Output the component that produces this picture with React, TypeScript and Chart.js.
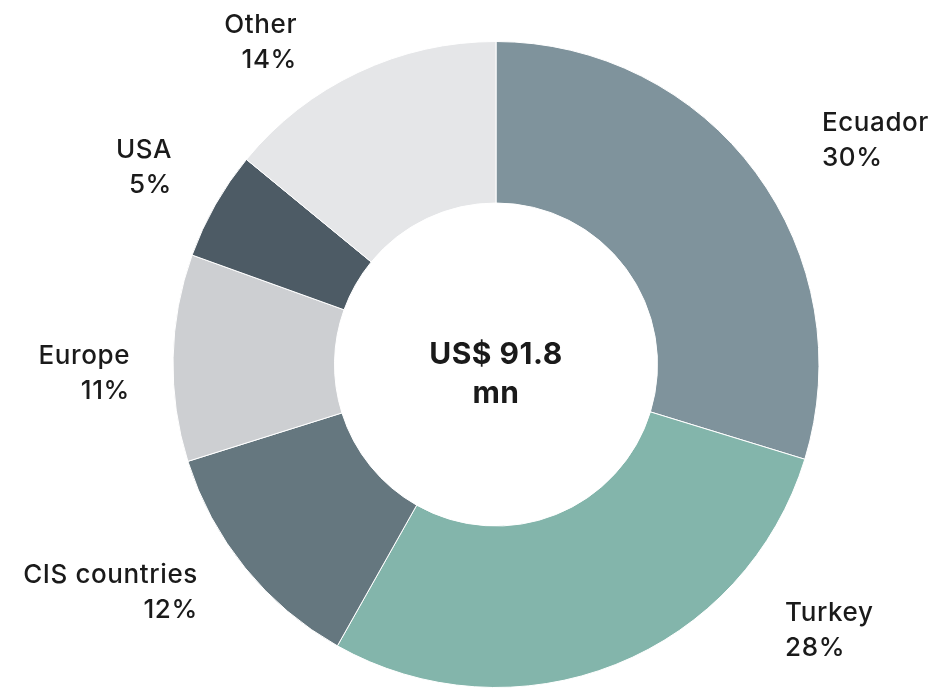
import React, { useEffect, useRef } from "react";
import { Chart, registerables } from "chart.js";

Chart.register(...registerables);

const categories = ["Ecuador", "Turkey", "CIS countries", "Europe", "USA", "Other"];
// values in US$ mn (slice sizes; total 91.8)
const values = [27.3, 26.1, 11.0, 9.5, 5.0, 12.9];
const percentLabels = ["30%", "28%", "12%", "11%", "5%", "14%"];
const colors = ["#7f939c", "#83b5ab", "#65777f", "#cdcfd2", "#4d5b65", "#e5e6e8"];
const centerLines = ["US$ 91.8", "mn"];

// label anchor offsets in units of outer radius, relative to chart centre
const labelAnchors = [
  { dx: 1.009, dy: -0.724, align: "left" },
  { dx: 0.895, dy: 0.793, align: "left" },
  { dx: -0.923, dy: 0.678, align: "right" },
  { dx: -1.133, dy: -0.003, align: "right" },
  { dx: -1.003, dy: -0.638, align: "right" },
  { dx: -0.616, dy: -1.025, align: "right" },
];

const FONT = 'Inter, sans-serif';

const labelPlugin = {
  id: "labelPlugin",
  afterDraw(chart: any) {
    const meta = chart.getDatasetMeta(0);
    const arc = meta.data[0];
    if (!arc) return;
    const { x, y, outerRadius } = arc.getProps(["x", "y", "outerRadius"], true);
    const ctx = chart.ctx;
    ctx.save();
    ctx.fillStyle = "#1a1a1a";
    ctx.font = `500 26px ${FONT}`;
    (ctx as any).letterSpacing = "0.6px";
    ctx.textBaseline = "alphabetic";
    categories.forEach((c, i) => {
      const a = labelAnchors[i];
      const lx = x + a.dx * outerRadius;
      const ly = y + a.dy * outerRadius;
      ctx.textAlign = a.align;
      ctx.fillText(c, lx, ly);
      ctx.fillText(percentLabels[i], lx, ly + 35);
    });
    ctx.font = `bold 30px ${FONT}`;
    (ctx as any).letterSpacing = "0.5px";
    ctx.textAlign = "center";
    ctx.fillText(centerLines[0], x, y - 1);
    ctx.fillText(centerLines[1], x, y + 38);
    ctx.restore();
  },
};

export default function App() {
  const ref = useRef<HTMLCanvasElement>(null);
  useEffect(() => {
    if (!ref.current) return;
    const chart = new Chart(ref.current, {
      type: "doughnut",
      data: {
        labels: categories,
        datasets: [
          {
            data: values,
            backgroundColor: colors,
            borderColor: "#ffffff",
            borderWidth: 1,
          },
        ],
      },
      options: {
        responsive: true,
        maintainAspectRatio: false,
        animation: false,
        cutout: "50%",
        layout: { padding: { top: 41, bottom: 0, left: 53, right: 0 } },
        plugins: { legend: { display: false }, tooltip: { enabled: false } },
      },
      plugins: [labelPlugin],
    });
    return () => chart.destroy();
  }, []);
  return (
    <div style={{ position: "fixed", left: 0, top: 0, width: 939, height: 688, background: "#fff" }}>
      <canvas ref={ref} />
    </div>
  );
}
